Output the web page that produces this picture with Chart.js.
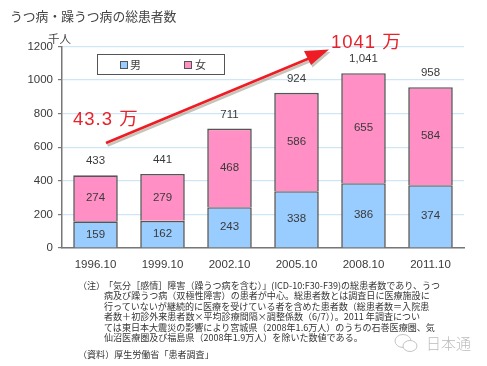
<!DOCTYPE html>
<html lang="ja">
<head>
<meta charset="utf-8">
<script src="https://cdn.jsdelivr.net/npm/chart.js@4"></script>
<style>
html,body{margin:0;padding:0;background:#fff;overflow:hidden}
#wrap{position:relative;width:487px;height:366px;filter:blur(.35px)}
canvas{position:absolute;left:0;top:0}
.t{position:absolute;white-space:nowrap;font-family:"Noto Sans CJK JP",sans-serif;color:#444}
#legend{position:absolute;left:97px;top:54px;width:126px;height:19px;background:#fff;border:1px solid #555;border-width:1.5px}
.sw{position:absolute;top:5.5px;width:6px;height:6px;border:1px solid #555}
.red{color:#e8222a;font-family:"Liberation Sans",sans-serif;letter-spacing:1px}
.red span{font-family:"Noto Sans CJK JP",sans-serif}
.note{font-size:9.05px;line-height:10.45px;color:#333}
</style>
</head>
<body>
<div id="wrap">
<canvas id="c" width="487" height="366"></canvas>
<div class="t" style="left:10px;top:6px;font-size:12.8px;line-height:20px;">うつ病・躁うつ病の総患者数</div>
<div class="t" style="left:48px;top:31px;font-size:11.5px;line-height:14px;">千人</div>
<div id="legend">
  <div class="sw" style="left:22px;background:#99ccff"></div>
  <div class="t" style="left:32px;top:2px;font-size:11px;line-height:14px">男</div>
  <div class="sw" style="left:86px;background:#ff8fc4"></div>
  <div class="t" style="left:97px;top:2px;font-size:11px;line-height:14px">女</div>
</div>
<div class="t red" style="left:331px;top:29px;font-size:18.5px;line-height:22px;">1041 <span>万</span></div>
<div class="t red" style="left:73px;top:105.5px;font-size:18.5px;line-height:22px;">43.3 <span>万</span></div>
<div class="t note" style="left:78px;top:281px;">（注）</div>
<div class="t note" style="left:104px;top:281px;">「気分［感情］障害（躁うつ病を含む）」(ICD-10:F30-F39)の総患者数であり、うつ<br>病及び躁うつ病（双極性障害）の患者が中心。総患者数とは調査日に医療施設に<br>行っていないが継続的に医療を受けている者を含めた患者数（総患者数＝入院患<br>者数＋初診外来患者数×平均診療間隔×調整係数（6/7））。2011 年調査につい<br>ては東日本大震災の影響により宮城県（2008年1.6万人）のうちの石巻医療圏、気<br>仙沼医療圏及び福島県（2008年1.9万人）を除いた数値である。</div>
<div class="t note" style="left:78px;top:350px;">（資料）厚生労働省「患者調査」</div>
<svg style="position:absolute;left:393px;top:332px" width="28" height="22" fill="#fff" stroke="#c4c4c4" stroke-width="1"><ellipse cx="10" cy="9" rx="8" ry="6.5"/><ellipse cx="17" cy="14" rx="7" ry="5.5"/></svg>
<div class="t" style="left:426px;top:332px;font-size:15px;line-height:22px;color:#bbb;font-weight:300">日本通</div>
</div>
<script>
const categories = ["1996.10","1999.10","2002.10","2005.10","2008.10","2011.10"];
const maleValues = [159,162,243,338,386,374];
const femaleValues = [274,279,468,586,655,584];
const totalLabels = ["433","441","711","924","1,041","958"];
const yTicks = [0,200,400,600,800,1000,1200];

const barLabels = {
  id:"barLabels",
  afterDatasetsDraw(chart){
    const ctx = chart.ctx;
    ctx.save();
    ctx.font = '11.5px "Liberation Sans", sans-serif';
    ctx.textAlign = "center";
    ctx.textBaseline = "middle";
    ctx.fillStyle = "#3a3a3a";
    chart.data.datasets.forEach((ds,i)=>{
      chart.getDatasetMeta(i).data.forEach((el,j)=>{
        const p = el.getProps(["x","y","base"],true);
        ctx.fillText(String(ds.data[j]), p.x, (p.y+p.base)/2);
        if(i===1) ctx.fillText(totalLabels[j], p.x, p.y-14);
      });
    });
    ctx.restore();
  }
};
const arrow = {
  id:"arrow",
  afterDraw(chart){
    const ctx = chart.ctx;
    const draw=(dx,dy,color)=>{
      ctx.save();
      ctx.translate(dx,dy);
      ctx.strokeStyle=color;ctx.fillStyle=color;ctx.lineWidth=2.6;
      ctx.beginPath();ctx.moveTo(106,143);ctx.lineTo(310,58);ctx.stroke();
      ctx.beginPath();ctx.moveTo(329,49.5);ctx.lineTo(304,51);ctx.lineTo(311,65);ctx.closePath();ctx.fill();
      ctx.restore();
    };
    draw(1.5,2.5,"rgba(150,150,130,.55)");
    draw(0,0,"#ee1c25");
  }
};
new Chart(document.getElementById("c"),{
  type:"bar",
  data:{labels:categories,datasets:[
    {label:"男",data:maleValues,backgroundColor:"#99ccff",borderColor:"#555",borderWidth:1.6},
    {label:"女",data:femaleValues,backgroundColor:"#ff8fc4",borderColor:"#555",borderWidth:1.6}
  ]},
  options:{
    responsive:false,animation:false,
    layout:{padding:{left:0,right:23,top:46.5,bottom:88}},
    datasets:{bar:{categoryPercentage:1,barPercentage:.665}},
    plugins:{legend:{display:false},tooltip:{enabled:false}},
    scales:{
      x:{stacked:true,
        afterFit(s){s.height=30},
        grid:{display:false,drawTicks:false},
        border:{color:"#777",width:1.5},
        ticks:{color:"#3a3a3a",font:{size:11.5,family:'"Liberation Sans", sans-serif'},padding:10,maxRotation:0}},
      y:{stacked:true,min:0,max:1200,
        afterFit(s){s.width=62},
        afterBuildTicks(s){s.ticks=yTicks.map(v=>({value:v}))},
        grid:{color:"#cfe6f6",lineWidth:1.2,tickColor:"#777",tickLength:4},
        border:{color:"#777",width:1.5},
        ticks:{color:"#3a3a3a",font:{size:11.5,family:'"Liberation Sans", sans-serif'},padding:5,callback:v=>String(v)}}
    }
  },
  plugins:[barLabels,arrow]
});
</script>
</body>
</html>
